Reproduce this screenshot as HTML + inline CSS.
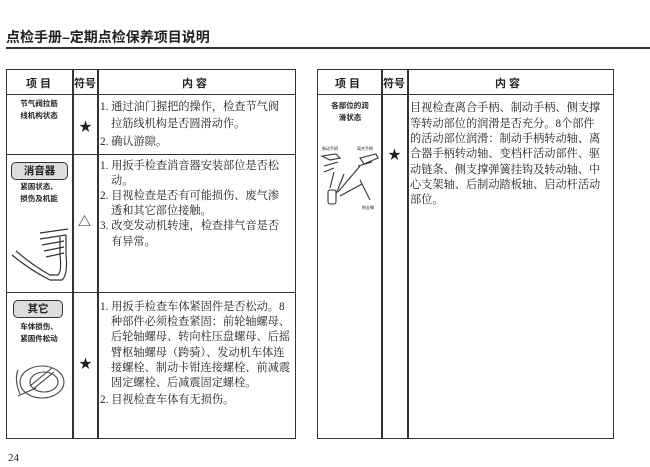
<!DOCTYPE html>
<html><head><meta charset="utf-8"><style>
body{margin:0;width:650px;height:467px;background:#fff;position:relative;overflow:hidden;font-family:"Liberation Serif","Noto Serif CJK SC",serif;color:#222}
.a{position:absolute;white-space:nowrap}
.t{font-size:11.2px;line-height:12px}
.h{font-family:"Liberation Sans","Noto Sans CJK SC",sans-serif;font-weight:bold;font-size:11px}
.s{font-family:"Liberation Sans","Noto Sans CJK SC",sans-serif;font-weight:bold;font-size:7.5px;text-align:center;line-height:12px}
.box{position:absolute;border:1.3px solid #333;border-radius:5px;background:#ddd;font-family:"Liberation Sans","Noto Sans CJK SC",sans-serif;font-weight:bold;font-size:10.5px;text-align:center}
.l{position:absolute;background:#333}
</style></head><body>
<div class="a" style="left:6px;top:27px;font-family:'Liberation Sans','Noto Sans CJK SC',sans-serif;font-weight:bold;font-size:14px;">点检手册–定期点检保养项目说明</div>
<div class="l" style="left:6px;top:47px;width:644px;height:1.5px"></div>

<div style="position:absolute;left:6px;top:69px;width:288px;height:368px;border:1.5px solid #333"></div>
<div class="l" style="left:72px;top:69px;width:1.5px;height:369px"></div>
<div class="l" style="left:97px;top:69px;width:1.5px;height:369px"></div>
<div class="l" style="left:6px;top:94px;width:290px;height:1.3px"></div>
<div class="l" style="left:6px;top:154px;width:290px;height:1.3px"></div>
<div class="l" style="left:6px;top:292px;width:290px;height:1.3px"></div>
<div class="a h" style="left:26px;top:75px">项 目</div>
<div class="a h" style="left:74px;top:75px">符号</div>
<div class="a h" style="left:182px;top:75px">内 容</div>

<div class="a s" style="left:8px;top:98px;width:62px">节气阀拉筋<br>线机构状态</div>
<div class="a" style="left:79px;top:116px;font-size:13px">★</div>
<div class="a t" style="left:100px;top:101px">1. 通过油门握把的操作，检查节气阀</div>
<div class="a t" style="left:111px;top:118px">拉筋线机构是否圆滑动作。</div>
<div class="a t" style="left:100px;top:136px">2. 确认游隙。</div>

<div class="box" style="left:11px;top:162px;width:55px;height:16px;line-height:16px">消音器</div>
<div class="a s" style="left:8px;top:181px;width:62px">紧固状态、<br>损伤及机能</div>
<svg style="position:absolute;left:10px;top:225px" width="60" height="60"><g fill="none" stroke="#333" stroke-width="1.2"><path d="M2 30 Q20 45 40 55 L52 55 Q58 50 56 30 L56 10"/><path d="M6 26 Q22 40 40 50 L48 50 Q52 46 50 30 L50 12"/><path d="M30 8 L58 4 M30 14 L56 10 M32 20 L54 16 M34 26 L54 22 M36 32 L54 28"/></g></svg>
<div class="a" style="left:78px;top:211px;font-size:13px">△</div>
<div class="a t" style="left:100px;top:160px">1. 用扳手检查消音器安装部位是否松</div>
<div class="a t" style="left:111px;top:175px">动。</div>
<div class="a t" style="left:100px;top:190px">2. 目视检查是否有可能损伤、废气渗</div>
<div class="a t" style="left:111px;top:205px">透和其它部位接触。</div>
<div class="a t" style="left:100px;top:220px">3. 改变发动机转速，检查排气音是否</div>
<div class="a t" style="left:111px;top:236px">有异常。</div>

<div class="box" style="left:13px;top:300px;width:48px;height:16px;line-height:16px">其它</div>
<div class="a s" style="left:8px;top:321px;width:62px">车体损伤、<br>紧固件松动</div>
<svg style="position:absolute;left:12px;top:360px" width="56" height="40"><g fill="none" stroke="#444" stroke-width="1.1"><ellipse cx="30" cy="22" rx="22" ry="16"/><ellipse cx="32" cy="22" rx="14" ry="10"/><path d="M6 10 Q2 20 8 34 M20 30 L42 12 M18 26 L40 8 M6 36 L24 28"/></g></svg>
<div class="a" style="left:79px;top:353px;font-size:13px">★</div>
<div class="a t" style="left:100px;top:301px">1. 用扳手检查车体紧固件是否松动。8</div>
<div class="a t" style="left:111px;top:316px">种部件必须检查紧固：前轮轴螺母、</div>
<div class="a t" style="left:111px;top:331px">后轮轴螺母、转向柱压盘螺母、后摇</div>
<div class="a t" style="left:111px;top:347px">臂枢轴螺母（跨骑）、发动机车体连</div>
<div class="a t" style="left:111px;top:362px">接螺栓、制动卡钳连接螺栓、前减震</div>
<div class="a t" style="left:111px;top:377px">固定螺栓、后减震固定螺栓。</div>
<div class="a t" style="left:100px;top:394px">2. 目视检查车体有无损伤。</div>

<div style="position:absolute;left:317px;top:69px;width:295px;height:368px;border:1.5px solid #333"></div>
<div class="l" style="left:381px;top:69px;width:1.5px;height:369px"></div>
<div class="l" style="left:407px;top:69px;width:1.5px;height:369px"></div>
<div class="l" style="left:317px;top:94px;width:297px;height:1.3px"></div>
<div class="a h" style="left:335px;top:75px">项 目</div>
<div class="a h" style="left:383px;top:75px">符号</div>
<div class="a h" style="left:495px;top:75px">内 容</div>
<div class="a s" style="left:319px;top:100px;width:62px">各部位的润<br>滑状态</div>
<div class="a" style="left:322px;top:146px;font-size:4px;font-family:'Liberation Sans','Noto Sans CJK SC',sans-serif">制动手柄</div>
<div class="a" style="left:357px;top:146px;font-size:4px;font-family:'Liberation Sans','Noto Sans CJK SC',sans-serif">离合手柄</div>
<div class="a" style="left:362px;top:205px;font-size:4px;font-family:'Liberation Sans','Noto Sans CJK SC',sans-serif">侧支撑</div>
<svg style="position:absolute;left:320px;top:152px" width="60" height="56"><g fill="none" stroke="#333" stroke-width="1.1"><path d="M2 4 L16 2 L20 6 L10 8 Z M4 14 L18 10 M4 20 L14 16"/><path d="M40 6 L56 2 L58 6 L44 12 Z M38 14 L52 10"/><path d="M10 36 L14 20 M16 42 L24 22 M18 40 L40 14 M20 44 L42 32 M40 28 L50 48"/><rect x="8" y="38" width="8" height="14" rx="2"/></g></svg>
<div class="a" style="left:388px;top:144px;font-size:13px">★</div>
<div class="a t" style="left:410px;top:102px">目视检查离合手柄、制动手柄、侧支撑</div>
<div class="a t" style="left:410px;top:118px">等转动部位的润滑是否充分。8个部件</div>
<div class="a t" style="left:410px;top:133px">的活动部位润滑：制动手柄转动轴、离</div>
<div class="a t" style="left:410px;top:148px">合器手柄转动轴、变档杆活动部件、驱</div>
<div class="a t" style="left:410px;top:164px">动链条、侧支撑弹簧挂钩及转动轴、中</div>
<div class="a t" style="left:410px;top:179px">心支架轴、后制动踏板轴、启动杆活动</div>
<div class="a t" style="left:410px;top:194px">部位。</div>

<div class="a" style="left:8px;top:452px;font-size:11px">24</div>
</body></html>
